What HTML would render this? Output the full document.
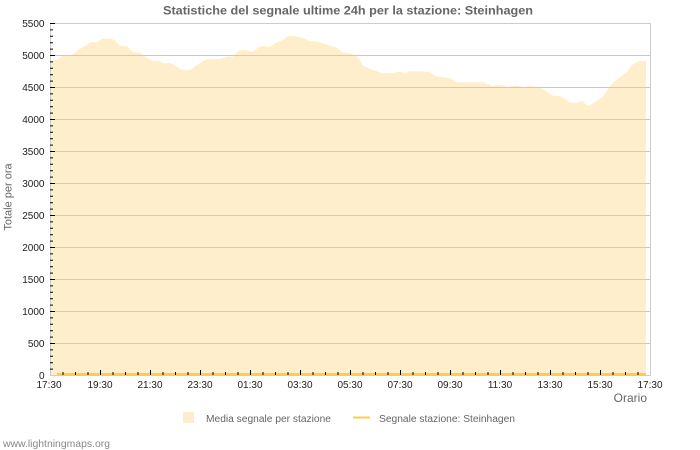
<!DOCTYPE html>
<html><head><meta charset="utf-8"><style>
html,body{margin:0;padding:0;background:#fff;}
svg{display:block;}
text{font-family:"Liberation Sans","DejaVu Sans",sans-serif;}
</style></head><body>
<svg width="700" height="450" viewBox="0 0 700 450" xmlns="http://www.w3.org/2000/svg">
<rect x="0" y="0" width="700" height="450" fill="#fff"/>
<text x="348" y="14.5" font-size="11.5" font-weight="bold" fill="#666" text-anchor="middle" textLength="370" lengthAdjust="spacingAndGlyphs">Statistiche del segnale ultime 24h per la stazione: Steinhagen</text>
<!-- gridlines -->
<g stroke="#c8c8c8" stroke-width="1">
<line x1="50" y1="55.5" x2="650" y2="55.5"/>
<line x1="50" y1="87.5" x2="650" y2="87.5"/>
<line x1="50" y1="119.5" x2="650" y2="119.5"/>
<line x1="50" y1="151.5" x2="650" y2="151.5"/>
<line x1="50" y1="183.5" x2="650" y2="183.5"/>
<line x1="50" y1="215.5" x2="650" y2="215.5"/>
<line x1="50" y1="247.5" x2="650" y2="247.5"/>
<line x1="50" y1="279.5" x2="650" y2="279.5"/>
<line x1="50" y1="311.5" x2="650" y2="311.5"/>
<line x1="50" y1="343.5" x2="650" y2="343.5"/>
</g>
<!-- area -->
<path fill="rgb(255,204,102)" fill-opacity="0.34" d="M51,375 L51,61 53,61 58,59.3 63,55 72,55 78,50 87,45 90,42.3 98,42 102,38.7 113,38.7 120,45.7 127,46 132,51.7 140,53 147,57.7 153,61 160,61 163,63.3 170,63 177,66.7 182,70 190,70 197,65 205,60 208,59 220,59 227,56.7 233,56.7 238,51 245,49.7 253,51.7 258,47.7 263,45.7 270,46.7 275,43.3 283,40 288,36 295,36 303,38.3 310,41 320,42.3 330,45.7 337,47.7 342,52.3 350,53.3 357,56 363,65.7 370,69 377,71 382,73.3 392,73.3 397,72 402,72 405,73 410,71.3 420,71.3 430,72 435,76 450,78.3 457,82.3 483,82.3 492,86 500,84.7 507,86.7 517,85.7 523,87 530,86 540,87.3 547,91.7 553,95.7 560,96 565,99 570,102.7 577,102.7 582,101 588,106 595,102.3 603,96.7 608,89 613,82.7 620,77.3 627,71.7 632,65 637,62 640,61 646,61 L646,375 Z"/>
<!-- station line -->
<line x1="57" y1="374" x2="646" y2="374" stroke="#ffcc44" stroke-width="2"/>
<!-- border -->
<rect x="50.5" y="23.5" width="600" height="352" fill="none" stroke="#cccccc" stroke-width="1"/>
<!-- y ticks -->
<g stroke="#000" stroke-width="1">
<path d="M50,23.5h5 M50,55.5h5 M50,87.5h5 M50,119.5h5 M50,151.5h5 M50,183.5h5 M50,215.5h5 M50,247.5h5 M50,279.5h5 M50,311.5h5 M50,343.5h5"/>
<path d="M50,29.9h3 M50,36.3h3 M50,42.7h3 M50,49.1h3 M50,61.9h3 M50,68.3h3 M50,74.7h3 M50,81.1h3 M50,93.9h3 M50,100.3h3 M50,106.7h3 M50,113.1h3 M50,125.9h3 M50,132.3h3 M50,138.7h3 M50,145.1h3 M50,157.9h3 M50,164.3h3 M50,170.7h3 M50,177.1h3 M50,189.9h3 M50,196.3h3 M50,202.7h3 M50,209.1h3 M50,221.9h3 M50,228.3h3 M50,234.7h3 M50,241.1h3 M50,253.9h3 M50,260.3h3 M50,266.7h3 M50,273.1h3 M50,285.9h3 M50,292.3h3 M50,298.7h3 M50,305.1h3 M50,317.9h3 M50,324.3h3 M50,330.7h3 M50,337.1h3 M50,349.9h3 M50,356.3h3 M50,362.7h3 M50,369.1h3"/>
</g>
<!-- x ticks -->
<g stroke="#000" stroke-width="1">
<path d="M100.5,375v-5 M150.5,375v-5 M200.5,375v-5 M250.5,375v-5 M300.5,375v-5 M350.5,375v-5 M400.5,375v-5 M450.5,375v-5 M500.5,375v-5 M550.5,375v-5 M600.5,375v-5"/>
<path d="M63,375v-3 M75.5,375v-3 M88,375v-3 M113,375v-3 M125.5,375v-3 M138,375v-3 M163,375v-3 M175.5,375v-3 M188,375v-3 M213,375v-3 M225.5,375v-3 M238,375v-3 M263,375v-3 M275.5,375v-3 M288,375v-3 M313,375v-3 M325.5,375v-3 M338,375v-3 M363,375v-3 M375.5,375v-3 M388,375v-3 M413,375v-3 M425.5,375v-3 M438,375v-3 M463,375v-3 M475.5,375v-3 M488,375v-3 M513,375v-3 M525.5,375v-3 M538,375v-3 M563,375v-3 M575.5,375v-3 M588,375v-3 M613,375v-3 M625.5,375v-3 M638,375v-3"/>
</g>
<!-- y labels -->
<g font-size="10" fill="#222" text-anchor="end">
<text x="44.5" y="27">5500</text>
<text x="44.5" y="59">5000</text>
<text x="44.5" y="91">4500</text>
<text x="44.5" y="123">4000</text>
<text x="44.5" y="155">3500</text>
<text x="44.5" y="187">3000</text>
<text x="44.5" y="219">2500</text>
<text x="44.5" y="251">2000</text>
<text x="44.5" y="283">1500</text>
<text x="44.5" y="315">1000</text>
<text x="44.5" y="347">500</text>
<text x="44.5" y="379">0</text>
</g>
<!-- x labels -->
<g font-size="10" fill="#222" text-anchor="middle">
<text x="49" y="388">17:30</text>
<text x="100" y="388">19:30</text>
<text x="150" y="388">21:30</text>
<text x="200" y="388">23:30</text>
<text x="250" y="388">01:30</text>
<text x="300" y="388">03:30</text>
<text x="350" y="388">05:30</text>
<text x="400" y="388">07:30</text>
<text x="450" y="388">09:30</text>
<text x="500" y="388">11:30</text>
<text x="550" y="388">13:30</text>
<text x="600" y="388">15:30</text>
<text x="650" y="388">17:30</text>
</g>
<text x="647" y="402" font-size="12" fill="#666" text-anchor="end">Orario</text>
<text transform="translate(11.5,197) rotate(-90)" font-size="11" fill="#666" text-anchor="middle">Totale per ora</text>
<!-- legend -->
<rect x="183" y="412" width="11" height="11" fill="#feedcc"/>
<text x="206" y="422" font-size="10" fill="#666" textLength="125" lengthAdjust="spacingAndGlyphs">Media segnale per stazione</text>
<line x1="353" y1="417.5" x2="370" y2="417.5" stroke="#ffcc44" stroke-width="2"/>
<text x="379" y="422" font-size="10" fill="#666" textLength="136" lengthAdjust="spacingAndGlyphs">Segnale stazione: Steinhagen</text>
<text x="3" y="447" font-size="10" fill="#888" textLength="107" lengthAdjust="spacingAndGlyphs">www.lightningmaps.org</text>
</svg>
</body></html>
